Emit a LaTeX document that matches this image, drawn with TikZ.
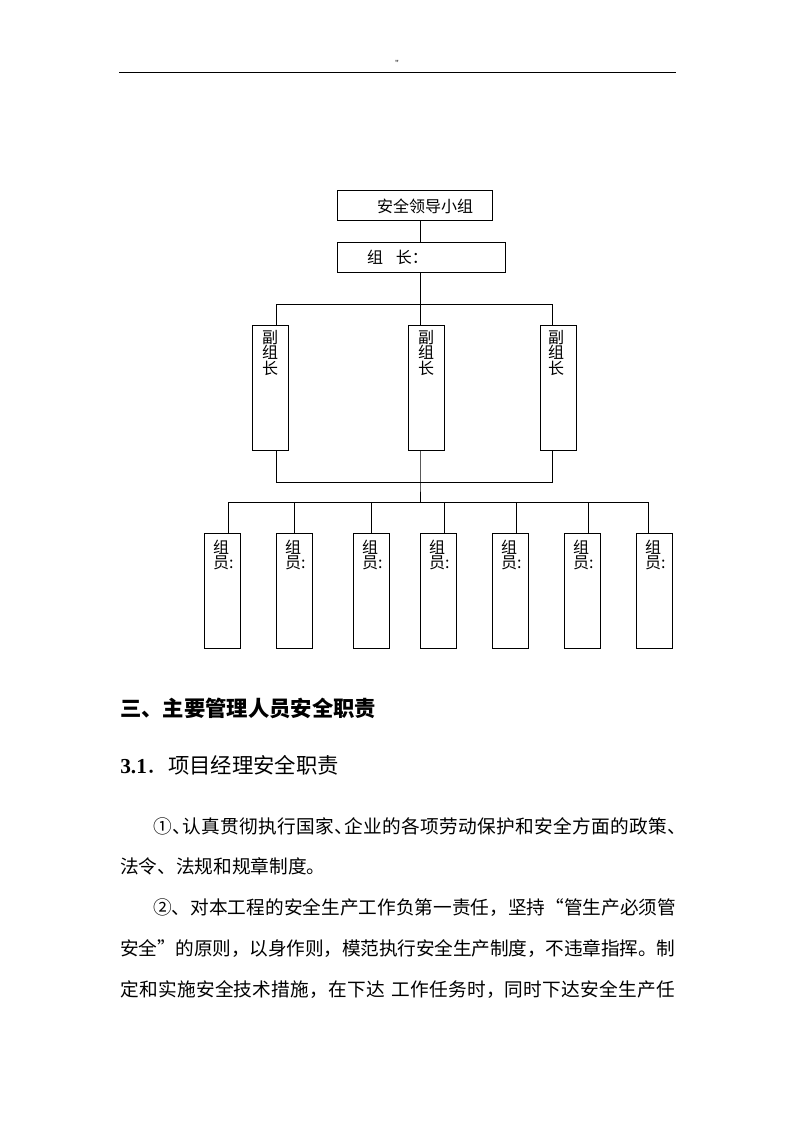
\documentclass[tikz,border=0pt]{standalone}
\usepackage{fontspec}
\setmainfont{Noto Sans CJK SC}
\newfontfamily\timesf{Liberation Serif}
\makeatletter
\newcommand{\jline}[2]{\makebox[#1][s]{\@tfor\jc:=#2\do{\jc\hskip 0pt plus 2pt minus 1pt}\unskip}}
\makeatother
\newcommand{\hdun}{\makebox[7pt][l]{、}}
\newcommand{\vtxt}[4]{\parbox[c][#1][t]{27pt}{\raggedright\leftskip=#2\relax\rule{0pt}{#3}#4}}
\tikzset{
  box/.style={draw, line width=0.75pt, inner sep=0pt, font=\fontsize{12pt}{11.6pt}\selectfont},
  conn/.style={line width=0.75pt},
  txt/.style={anchor=west, inner sep=0pt, font=\fontsize{14pt}{14pt}\selectfont},
  head/.style={anchor=west, inner sep=0pt, font=\fontsize{16pt}{16pt}\selectfont},
}
\begin{document}
\begin{tikzpicture}[x=0.75pt,y=-0.75pt]
\fill[white] (0,0) rectangle (794,1123);
\useasboundingbox (0,0) rectangle (794,1123);

% page header
\node[inner sep=0pt, font=\timesf\fontsize{7pt}{7pt}\selectfont] (hq) at (397,63) {"};
\coordinate (hl) at (119,72.5);
\coordinate (hr) at (676,72.5);
\draw[line width=0.9pt] (hl) -- (hr);

% top boxes
\node[box, minimum width=116.25pt, minimum height=22.5pt] (top) at (414.5,206)
  {\makebox[116.25pt][l]{\hspace{30pt}安全领导小组}};
\node[box, minimum width=126pt, minimum height=22.5pt] (lead) at (421,257)
  {\makebox[126pt][l]{\hspace{22.5pt}组\hspace{9.75pt}长：}};

% deputy boxes
\node[box, minimum width=27pt, minimum height=93.75pt] (v1) at (270,387.5)
  {\vtxt{93.75pt}{7.5pt}{13.7pt}{副\\组\\长}};
\node[box, minimum width=27pt, minimum height=93.75pt] (v2) at (426,387.5)
  {\vtxt{93.75pt}{7.5pt}{13.7pt}{副\\组\\长}};
\node[box, minimum width=27pt, minimum height=93.75pt] (v3) at (558,387.5)
  {\vtxt{93.75pt}{6pt}{13.7pt}{副\\组\\长}};

% member boxes
\foreach \i/\x in {1/222,2/294,3/371,4/438,5/510,6/582,7/654}{
  \node[box, minimum width=27pt, minimum height=86.25pt] (g\i) at (\x,591)
    {\vtxt{86.25pt}{6.75pt}{14.9pt}{组\\员:}};
}

% connectors
\coordinate (m) at (420,304);
\coordinate (b1) at (276,304);
\coordinate (b3) at (552,304);
\draw[conn] (top.south -| m) -- (lead.north -| m);
\draw[conn] (lead.south -| m) -- (m);
\draw[conn] (b1) -- (b3);
\draw[conn] (b1) -- (b1 |- v1.north);
\draw[conn] (m) -- (m |- v2.north);
\draw[conn] (b3) -- (b3 |- v3.north);

\coordinate (c1) at (276,482);
\coordinate (cm) at (420,482);
\coordinate (c3) at (552,482);
\coordinate (d) at (420,502);
\draw[conn] (v1.south -| c1) -- (c1) -- (c3) -- (v3.south -| c3);
\draw[conn] (v2.south -| cm) -- (cm) -- (d);

\foreach \i/\x in {1/228,2/294,3/371,4/444,5/516,6/588,7/648}{
  \coordinate (e\i) at (\x,502);
}
\draw[conn] (e1) -- (e7);
\foreach \i in {1,...,7}{
  \draw[conn] (e\i) -- (e\i |- g\i.north);
}

% headings
\node[head, font=\fontsize{16pt}{16pt}\selectfont\bfseries] (h1) at (120,708.5) {三、主要管理人员安全职责};
\node[head] (h2) at (120,765) {{\timesf\bfseries 3.1}．项目经理安全职责};

% body text
\node[txt] (p1) at (153,826.5) {\jline{399.75pt}{①{\hdun}认真贯彻执行国家{\hdun}企业的各项劳动保护和安全方面的政策、}};
\node[txt] (p2) at (120,866.5) {法令、法规和规章制度。};
\node[txt] (p3) at (153,908) {\jline{392.25pt}{②、对本工程的安全生产工作负第一责任，坚持“管生产必须管}};
\node[txt] (p4) at (120,949) {\jline{416.25pt}{安全”的原则，以身作则，模范执行安全生产制度，不违章指挥。制}};
\node[txt] (p5) at (120,990) {\jline{416.25pt}{定和实施安全技术措施，在下达{\hspace{4pt}}工作任务时，同时下达安全生产任}};
\end{tikzpicture}
\end{document}
